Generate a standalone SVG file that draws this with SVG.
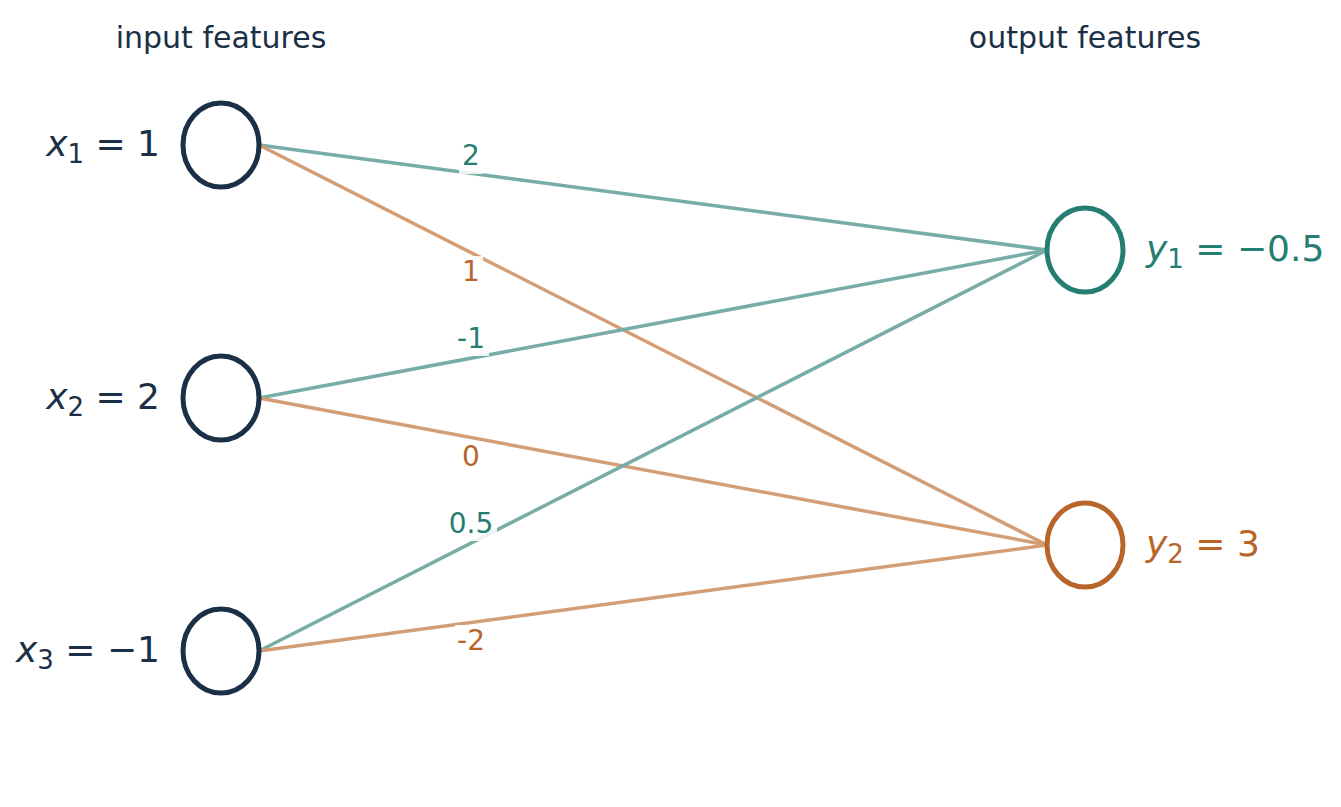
<svg xmlns="http://www.w3.org/2000/svg" width="1341" height="807" viewBox="0 0 1341 807">
<style>
text{font-family:"DejaVu Sans",sans-serif}
.h{font-size:30px;fill:#1b3047;text-anchor:middle}
.n{fill:#fff;stroke-width:5}
.in{stroke:#1b3047}
.t{stroke:#77ada6;stroke-width:3.5}
.o{stroke:#d39e76;stroke-width:3.5}
.lt{fill:#267d72;font-size:28px;text-anchor:middle}
.lo{fill:#b8652a;font-size:28px;text-anchor:middle}
.bg{fill:#fff;opacity:0.85}
.lab{font-size:36px;text-anchor:end}
.sub{font-size:26px}
</style>
<rect width="1341" height="807" fill="#fff"/>
<text class="h" x="221" y="48">input features</text>
<text class="h" x="1085" y="48">output features</text>
<g id="connectors">
<line class="t" x1="259" y1="145" x2="1047" y2="250"/>
<line class="o" x1="259" y1="145" x2="1047" y2="545"/>
<line class="t" x1="259" y1="398" x2="1047" y2="250"/>
<line class="o" x1="259" y1="398" x2="1047" y2="545"/>
<line class="t" x1="259" y1="651" x2="1047" y2="250"/>
<line class="o" x1="259" y1="651" x2="1047" y2="545"/>
<rect class="bg" x="459" y="142" width="24" height="32"/><text class="lt" x="471" y="165">2</text>
<rect class="bg" x="459" y="256" width="24" height="32"/><text class="lo" x="471" y="281">1</text>
<rect class="bg" x="455" y="324" width="34" height="32"/><text class="lt" x="471" y="348">-1</text>
<rect class="bg" x="459" y="441" width="24" height="32"/><text class="lo" x="471" y="466">0</text>
<rect class="bg" x="447" y="509" width="50" height="32"/><text class="lt" x="471" y="533">0.5</text>
<rect class="bg" x="455" y="625" width="34" height="32"/><text class="lo" x="471" y="650">-2</text>
</g>
<g id="x1"><ellipse class="n in" cx="221" cy="145" rx="38" ry="42"/><text class="lab" x="160" y="156" fill="#1b3047"><tspan font-style="italic">x</tspan><tspan class="sub" dy="7">1</tspan><tspan dy="-7"> = 1</tspan></text></g>
<g id="x2"><ellipse class="n in" cx="221" cy="398" rx="38" ry="42"/><text class="lab" x="160" y="409" fill="#1b3047"><tspan font-style="italic">x</tspan><tspan class="sub" dy="7">2</tspan><tspan dy="-7"> = 2</tspan></text></g>
<g id="x3"><ellipse class="n in" cx="221" cy="651" rx="38" ry="42"/><text class="lab" x="160" y="662" fill="#1b3047"><tspan font-style="italic">x</tspan><tspan class="sub" dy="7">3</tspan><tspan dy="-7"> = −1</tspan></text></g>
<g id="y1"><ellipse class="n" stroke="#267d72" cx="1085" cy="250" rx="38" ry="42"/><text x="1146" y="261" font-size="36" fill="#267d72"><tspan font-style="italic">y</tspan><tspan class="sub" dy="7">1</tspan><tspan dy="-7"> = −0.5</tspan></text></g>
<g id="y2"><ellipse class="n" stroke="#b8652a" cx="1085" cy="545" rx="38" ry="42"/><text x="1146" y="556" font-size="36" fill="#b8652a"><tspan font-style="italic">y</tspan><tspan class="sub" dy="7">2</tspan><tspan dy="-7"> = 3</tspan></text></g>
</svg>
